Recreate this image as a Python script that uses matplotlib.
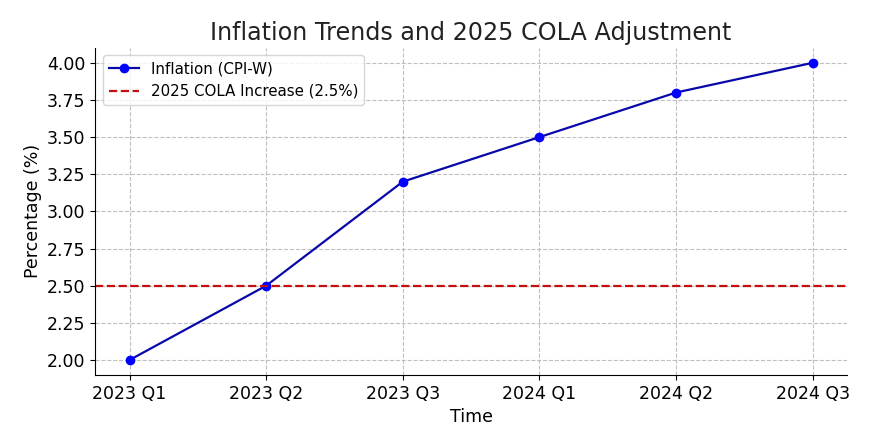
import matplotlib.pyplot as plt

# Data
quarters = ["2023 Q1", "2023 Q2", "2023 Q3", "2024 Q1", "2024 Q2", "2024 Q3"]
inflation = [2.0, 2.5, 3.2, 3.5, 3.8, 4.0]
cola_increase = 2.5

fig, ax = plt.subplots(figsize=(8.83, 4.4), dpi=100)
fig.subplots_adjust(left=0.108, right=0.959, top=0.891, bottom=0.148)

ax.plot(quarters, inflation, marker="o", color="#0808aa", markerfacecolor="blue",
        markeredgecolor="blue", linewidth=1.6, markersize=6, label="Inflation (CPI-W)")
ax.axhline(cola_increase, color="#c01010", linestyle="--", linewidth=1.6,
           label="2025 COLA Increase (2.5%)")

ax.set_title("Inflation Trends and 2025 COLA Adjustment", fontsize=17.2, color="#222222")
ax.set_xlabel("Time", fontsize=12.5)
ax.set_ylabel("Percentage (%)", fontsize=12.5)
ax.tick_params(labelsize=12.5)
ax.grid(True, linestyle="--", color="#b0b0b0", alpha=0.8)
ax.spines["top"].set_visible(False)
ax.spines["right"].set_visible(False)
ax.legend(loc="upper left", fontsize=10.8)

plt.savefig("out.png")
